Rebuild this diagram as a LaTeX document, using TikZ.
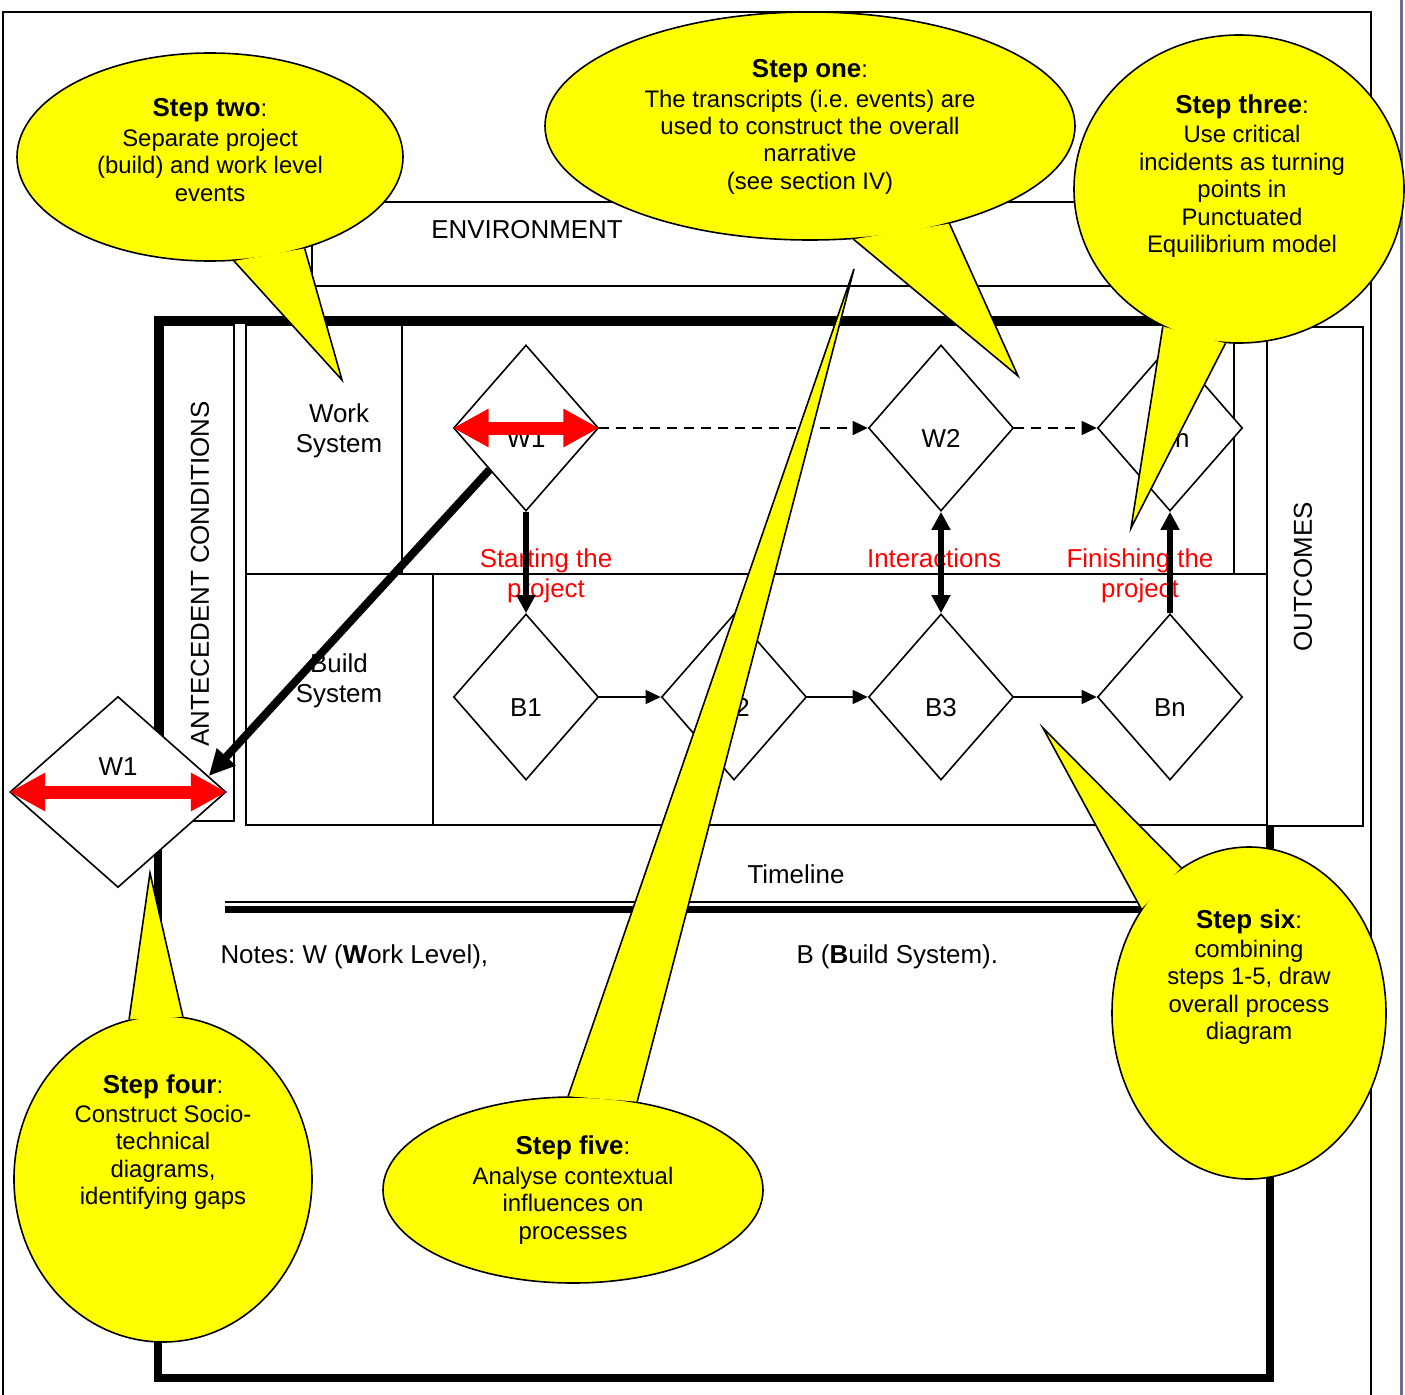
\documentclass[tikz,border=0pt]{standalone}
\usepackage{fontspec}
\setmainfont{Liberation Sans}
\usepackage{tikz}
\usetikzlibrary{arrows.meta, shapes.geometric}
\definecolor{pageedge}{RGB}{110,110,140}
\definecolor{bubblefill}{RGB}{255,255,0}
\definecolor{tagred}{RGB}{255,0,0}
\newcommand{\steptitle}[1]{{\fontsize{26}{30}\selectfont\textbf{#1}}:}
\frenchspacing

\begin{document}
\begin{tikzpicture}[x=1bp, y=-1bp, font=\fontsize{26}{30}\selectfont,
    thin line/.style={line width=1.6bp},
    box/.style={draw, thin line, fill=white},
    sysframe/.style={draw, line width=8bp},
    event/.style={diamond, draw, fill=white, thin line, inner sep=0pt,
      minimum width=145bp, minimum height=166bp, text height=38bp, text depth=0pt},
    flow/.style={thin line, -{Triangle[length=15bp,width=14bp]}},
    drift/.style={flow, dash pattern=on 10bp off 7bp},
    link/.style={line width=6bp, -{Triangle[length=18bp,width=18bp]}},
    twolink/.style={line width=6bp, {Triangle[length=18bp,width=18bp]}-{Triangle[length=18bp,width=18bp]}},
    span/.style={tagred, line width=13bp, {Triangle[length=36bp,width=36bp]}-{Triangle[length=36bp,width=36bp]}},
    tag/.style={text=tagred, align=center},
    bubble/.style={ellipse, draw, fill=bubblefill, thin line, inner sep=0pt},
    bubbletext/.style={align=center, font=\fontsize{24}{27.5}\selectfont}]
  \useasboundingbox (0,0) rectangle (1405,1395);

  %% *** Page ***
  \draw[thin line] (3,1395) -- (3,12) -- (1371,12) -- (1371,1395);
  \draw[line width=3bp, pageedge] (1401.5,0) -- (1401.5,1395);

  %% *** Environment ***
  \draw[box] (312,202) rectangle (1340,286);
  \node (env) at (527,230) {ENVIRONMENT};

  %% *** System frame and rows ***
  \draw[sysframe] (158,320) rectangle (1270,1378);
  \draw[box] (163,325) rectangle (234,821);
  \node[rotate=90] (ante) at (200,574) {ANTECEDENT CONDITIONS};
  \draw[box] (246,325) rectangle (1234,574);
  \draw[thin line] (402,325) -- (402,574);
  \draw[box] (246,574) rectangle (1267,825);
  \draw[thin line] (433,574) -- (433,825);
  \draw[box] (1267,327) rectangle (1363,826);
  \node[rotate=90] (outc) at (1303,577) {OUTCOMES};
  \node[align=center] (ws) at (339,431) {Work\\System};
  \node[align=center] (bs) at (339,681) {Build\\System};

  \node[tag] (start) at (546,576) {Starting the\\project};
  \node[tag] (inter) at (934,558) {Interactions};
  \node[tag] (finish) at (1140,576) {Finishing the\\project};

  %% *** Events ***
  \node[event] (w1) at (526,428) {W1};
  \node[event] (w2) at (941,428) {W2};
  \node[event] (wn) at (1170,428) {Wn};
  \node[event] (b1) at (526,697) {B1};
  \node[event] (b2) at (734,697) {B2};
  \node[event] (b3) at (941,697) {B3};
  \node[event] (bn) at (1170,697) {Bn};
  \node[event, minimum width=216bp, minimum height=191bp,
    text height=19bp, text depth=52bp] (wl) at (118,792) {W1};

  \draw[drift] (w1.east) -- (w2.west);
  \draw[drift] (w2.east) -- (wn.west);
  \draw[flow] (b1.east) -- (b2.west);
  \draw[flow] (b2.east) -- (b3.west);
  \draw[flow] (b3.east) -- (bn.west);
  \draw[link] (w1.south) -- (b1.north);
  \draw[twolink] (w2.south) -- (b3.north);
  \draw[link] (bn.north) -- (wn.south);
  \draw[line width=8bp, -{Triangle[length=26bp,width=24bp]}] (w1.south west) -- (wl.10);
  \draw[span] (w1.west) -- (w1.east);
  \draw[span] (wl.west) -- (wl.east);

  %% *** Timeline ***
  \draw[line width=2bp] (225,901.5) -- (1150,901.5);
  \draw[line width=7bp] (225,909.5) -- (1150,909.5);
  \node (tl) at (796,874) {Timeline};
  \node[anchor=base west] (notew) at (217,963) {Notes: W (\textbf{W}ork Level),};
  \node[anchor=base west] (noteb) at (793,963) {B (\textbf{B}uild System).};

  %% *** Callouts ***
  \node[bubble, minimum width=530bp, minimum height=228bp] (s1) at (810,126) {};
  \coordinate (s1tip) at (1018,376);
  \fill[bubblefill] (s1.-69.6) -- (s1tip) -- (s1.-35.7) -- cycle;
  \draw[thin line] (s1.-69.6) -- (s1tip) -- (s1.-35.7);

  \node[bubble, minimum width=386bp, minimum height=208bp] (s2) at (210,157) {};
  \coordinate (s2tip) at (342,380);
  \fill[bubblefill] (s2.-77.6) -- (s2tip) -- (s2.-44.4) -- cycle;
  \draw[thin line] (s2.-77.6) -- (s2tip) -- (s2.-44.4);

  \node[bubble, minimum width=330bp, minimum height=308bp] (s3) at (1239,189) {};
  \coordinate (s3tip) at (1131,528);
  \fill[bubblefill] (s3.-119.2) -- (s3tip) -- (s3.-95.5) -- cycle;
  \draw[thin line] (s3.-119.2) -- (s3tip) -- (s3.-95.5);

  \node[bubble, minimum width=298bp, minimum height=326bp] (s4) at (163,1179) {};
  \coordinate (s4tip) at (150,873);
  \fill[bubblefill] (s4.102.3) -- (s4tip) -- (s4.83) -- cycle;
  \draw[thin line] (s4.102.3) -- (s4tip) -- (s4.83);

  \node[bubble, minimum width=380bp, minimum height=186bp] (s5) at (573,1190) {};
  \coordinate (s5tip) at (854,269);
  \fill[bubblefill] (s5.93.1) -- (s5tip) -- (s5.54.6) -- cycle;
  \draw[thin line] (s5.93.1) -- (s5tip) -- (s5.54.6);

  \node[bubble, minimum width=274bp, minimum height=332bp] (s6) at (1249,1013) {};
  \coordinate (s6tip) at (1043,728);
  \fill[bubblefill] (s6.115.6) -- (s6tip) -- (s6.136.6) -- cycle;
  \draw[thin line] (s6.115.6) -- (s6tip) -- (s6.136.6);

  \node[bubbletext] (s1t) at (810,127) {\steptitle{Step one}\\[2bp]The transcripts (i.e. events) are\\used to construct the overall\\narrative\\(see section IV)};
  \node[bubbletext] (s2t) at (210,150) {\steptitle{Step two}\\[2bp]Separate project\\(build) and work level\\events};
  \node[bubbletext] (s3t) at (1242,176) {\steptitle{Step three}\\[2bp]Use critical\\incidents as turning\\points in\\Punctuated\\Equilibrium model};
  \node[bubbletext] (s4t) at (163,1142) {\steptitle{Step four}\\[2bp]Construct Socio-\\technical\\diagrams,\\identifying gaps};
  \node[bubbletext] (s5t) at (573,1190) {\steptitle{Step five}\\[2bp]Analyse contextual\\influences on\\processes};
  \node[bubbletext] (s6t) at (1249,977) {\steptitle{Step six}\\[2bp]combining\\steps 1-5, draw\\overall process\\diagram};
\end{tikzpicture}
\end{document}
